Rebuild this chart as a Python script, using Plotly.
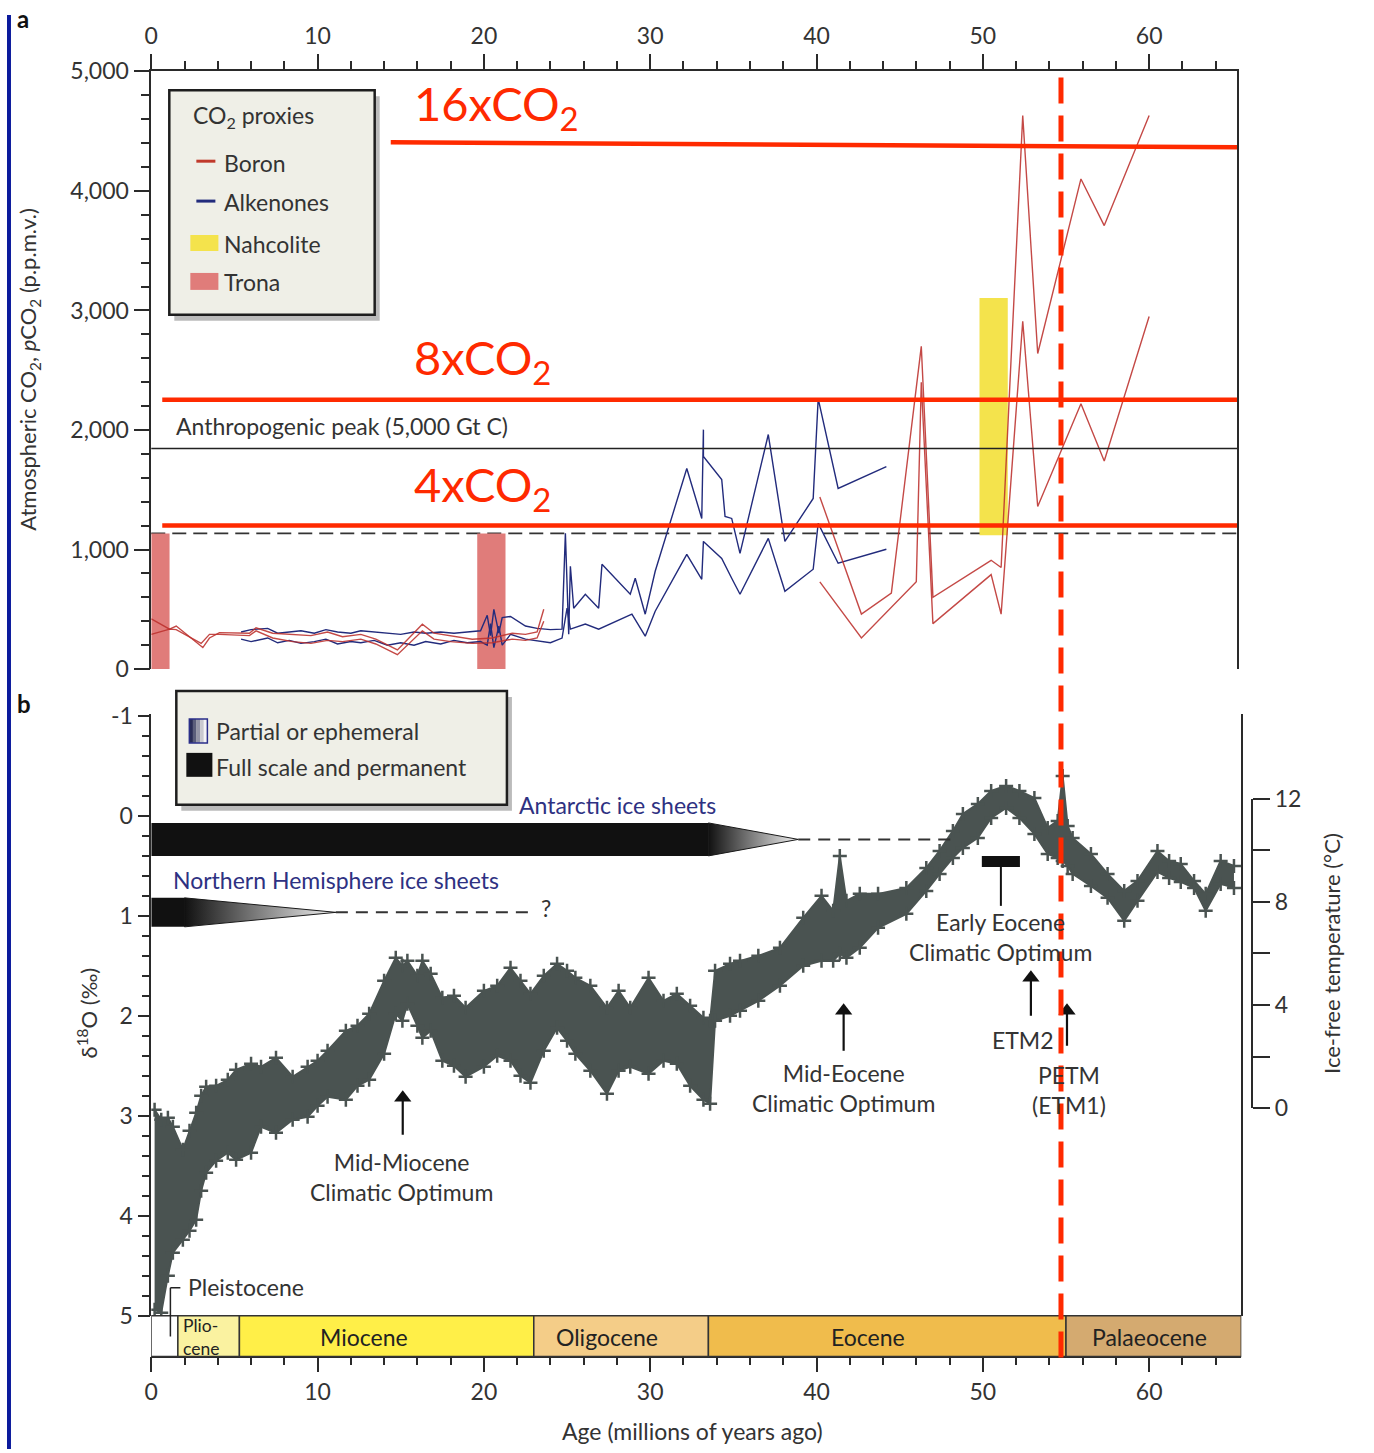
import plotly.graph_objects as go

# Empirical mapping between figure pixels and the photographed page
# (observed: X_page = 8 + 0.993*X_fig, Y_page = 12.5 + 0.983*Y_fig).
FW, FH = 1358, 1462
SX, OX = 0.993, 8.0
SY, OY = 0.983, 12.5
FONT = "Lato"
TXT = "#333333"
AX = "#2a2a2a"


def px(X):
    return ((X - OX) / SX) / FW


def py(Y):
    return 1 - ((Y - OY) / SY) / FH


# ---------------- DATA : panel a (CO2 proxies) ----------------
boron_hi_age = [0, 1.1, 1.5, 3.1, 3.5, 4.1, 5.9, 6.3, 7.3, 8.5, 9.6, 10.6, 11.5, 12.6, 13.5, 14.8, 16.3, 17.0,
                18.0, 19.3, 20.5, 21.7, 22.5, 23.2, 23.6, None,
                40.2, 42.7, 44.5, 46.3, 47.0, 50.5, 51.1, 52.4, 53.3, 55.9, 57.3, 60.0]
boron_hi_ppm = [420, 334, 360, 180, 260, 305, 300, 345, 300, 290, 280, 310, 270, 290, 250, 160, 375, 300,
                280, 250, 260, 300, 290, 310, 500, None,
                1440, 460, 635, 2700, 600, 910, 850, 4630, 2640, 4100, 3710, 4630]
boron_lo_age = [0, 1.1, 1.5, 3.0, 3.5, 4.1, 5.9, 6.3, 7.3, 8.5, 9.6, 10.6, 11.5, 12.6, 13.5, 14.8, 16.3, 17.0,
                18.0, 19.3, 20.5, 21.7, 22.5, 23.2, 23.6, None,
                40.2, 42.7, 46.0, 46.3, 47.0, 50.5, 51.1, 52.4, 53.3, 55.9, 57.3, 60.0]
boron_lo_ppm = [290, 334, 330, 215, 290, 290, 280, 320, 260, 230, 215, 240, 230, 250, 210, 120, 320, 250,
                230, 215, 220, 250, 240, 260, 400, None,
                730, 260, 730, 2400, 380, 790, 460, 2910, 1360, 2220, 1740, 2950]

alk_hi_age = [5.4, 6.0, 7.0, 7.6, 8.3, 9.0, 9.8, 10.5, 11.2, 12.0, 12.6, 13.4, 14.2, 15.0, 15.8, 16.5, 17.4,
              18.2, 19.0, 19.8, 20.2, 20.4, 20.6, 20.9, 21.1, 21.6, 22.5, 23.2, 24.0, 24.7, 24.9, 25.1, 25.2,
              25.4, 26.1, 26.9, 27.1, 28.8, 29.1, 29.7, 30.3, 32.2, 33.1, 33.2, 33.2, 34.3, 34.5, 34.9, 35.4,
              37.1, 38.1, 39.8, 40.1, 41.3, 44.2]
alk_hi_ppm = [310, 330, 340, 300, 310, 320, 300, 330, 310, 300, 320, 310, 300, 290, 310, 300, 310,
              300, 310, 320, 450, 280, 500, 300, 430, 440, 360, 340, 330, 334, 1135, 292, 860,
              509, 626, 509, 876, 626, 760, 459, 818, 1678, 1260, 2003, 1778, 1586, 1277, 1260, 968,
              1962, 1068, 1427, 2262, 1511, 1694]
alk_lo_age = [5.4, 6.0, 7.0, 7.6, 8.3, 9.0, 9.8, 10.5, 11.2, 12.0, 12.6, 13.4, 14.2, 15.0, 15.8, 16.5, 17.4,
              18.2, 19.0, 19.8, 20.2, 20.4, 20.6, 20.9, 21.1, 21.6, 22.5, 23.2, 24.0, 24.7, 25.0, 25.2, 26.1,
              26.9, 28.9, 29.7, 30.3, 32.2, 33.1, 33.2, 34.3, 34.9, 35.4, 37.1, 38.1, 39.8, 40.1, 41.3, 44.2]
alk_lo_ppm = [250, 230, 260, 220, 240, 215, 230, 250, 210, 230, 220, 240, 200, 220, 200, 230, 210,
              240, 220, 230, 200, 380, 180, 360, 200, 290, 250, 235, 220, 259, 509, 334, 376,
              334, 459, 275, 484, 960, 751, 1068, 926, 760, 626, 1093, 651, 835, 1219, 885, 1002]

trona_start = [0.0, 19.6]
trona_end = [1.1, 21.3]
trona_top = [1135, 1135]
nahcolite_start = [49.8]
nahcolite_end = [51.5]
nahcolite_bottom = [1120]
nahcolite_top = [3105]

anthropogenic_peak = 1845
dashed_level = 1135
co2_labels = ["16xCO<sub>2</sub>", "8xCO<sub>2</sub>", "4xCO<sub>2</sub>"]
co2_line_x = [[14.4, 65.3], [0.66, 65.3], [0.66, 65.3]]
co2_line_y = [[4407, 4366], [2254, 2254], [1202, 1202]]
petm_age = 54.7

# ---------------- DATA : panel b (benthic d18O) ----------------
d18o_age = [0.2, 0.6, 1.0, 1.3, 1.9, 2.3, 2.7, 3.0, 3.3, 3.9, 4.6, 5.1, 6.0, 6.6, 7.5, 8.5, 9.4, 10.0, 10.6,
            11.7, 12.4, 13.1, 14.0, 14.7, 15.1, 15.4, 16.0, 16.3, 16.8, 17.5, 18.2, 18.9, 20.0, 20.8, 21.6,
            22.2, 22.8, 23.6, 24.4, 25.0, 25.5, 26.4, 27.4, 28.1, 28.8, 29.9, 30.8, 31.6, 32.4, 33.2, 33.6,
            33.9, 34.8, 35.4, 36.5, 37.8, 39.2, 40.3, 41.0, 41.4, 41.8, 42.6, 43.7, 45.4, 46.6, 47.4, 48.2,
            48.8, 49.7, 50.5, 51.4, 52.2, 53.1, 53.9, 54.5, 54.8, 55.1, 55.4, 56.5, 57.5, 58.5, 59.3, 60.5,
            61.2, 61.9, 62.7, 63.4, 64.3, 65.1]
d18o_top = [2.94, 3.04, 3.02, 3.11, 3.34, 3.15, 2.97, 2.80, 2.71, 2.70, 2.64, 2.54, 2.48, 2.51, 2.42, 2.61,
            2.51, 2.45, 2.35, 2.15, 2.10, 1.98, 1.65, 1.42, 1.50, 1.45, 1.60, 1.45, 1.58, 1.82, 1.80, 1.92,
            1.75, 1.70, 1.52, 1.65, 1.78, 1.60, 1.48, 1.55, 1.62, 1.70, 1.92, 1.75, 1.92, 1.62, 1.85, 1.78,
            1.90, 2.02, 2.05, 1.55, 1.48, 1.45, 1.40, 1.32, 1.02, 0.80, 0.95, 0.40, 0.85, 0.78, 0.78, 0.72,
            0.52, 0.35, 0.15, -0.02, -0.12, -0.25, -0.30, -0.25, -0.18, 0.12, 0.05, -0.40, 0.10, 0.22,
            0.38, 0.58, 0.75, 0.65, 0.35, 0.45, 0.48, 0.65, 0.78, 0.45, 0.50]
d18o_bot = [4.94, 4.97, 4.60, 4.37, 4.24, 4.15, 4.04, 3.75, 3.57, 3.45, 3.37, 3.44, 3.37, 3.11, 3.17, 3.04,
            3.01, 2.90, 2.81, 2.84, 2.70, 2.64, 2.38, 1.98, 2.05, 1.88, 2.10, 2.22, 2.15, 2.45, 2.50, 2.61,
            2.51, 2.40, 2.45, 2.60, 2.67, 2.35, 2.12, 2.25, 2.38, 2.55, 2.78, 2.55, 2.51, 2.58, 2.45, 2.48,
            2.70, 2.84, 2.88, 2.05, 2.00, 1.95, 1.85, 1.70, 1.50, 1.45, 1.45, 1.38, 1.42, 1.32, 1.12, 0.98,
            0.75, 0.58, 0.42, 0.32, 0.22, 0.02, -0.08, 0.02, 0.18, 0.38, 0.42, 0.45, 0.50, 0.58, 0.70,
            0.82, 1.05, 0.85, 0.56, 0.62, 0.66, 0.72, 0.95, 0.68, 0.72]

# ice sheets: full-scale end, taper tip, dashed end, band top/bottom (d18O units)
ant_full_end, ant_tip, ant_dash_end = 33.5, 38.9, 48.3
ant_band = [0.07, 0.40]
nh_full_end, nh_tip, nh_dash_end = 2.0, 11.1, 22.9
nh_band = [0.82, 1.11]

epoch_names = ["", "Plio-<br>cene", "Miocene", "Oligocene", "Eocene", "Palaeocene"]
epoch_start = [0.0, 1.6, 5.3, 23.0, 33.5, 55.0]
epoch_end = [1.6, 5.3, 23.0, 33.5, 55.0, 65.54]
epoch_colors = ["#FFFFFF", "#FAF2A0", "#FFEF48", "#F4CD88", "#F0BC4C", "#D4AA70"]
epoch_label_x = [None, 1.8, 12.8, 27.4, 43.1, 60.0]

events = ["Mid-Miocene<br>Climatic Optimum", "Mid-Eocene<br>Climatic Optimum", "ETM2", "PETM<br>(ETM1)"]
event_age = [15.12, 41.63, 52.89, 55.06]
event_head = [2.72, 1.85, 1.52, 1.85]
event_tail = [3.19, 2.35, 2.00, 2.30]
event_text_x = [402, 843, 1022, 1068]
event_text_y = [1177, 1088, 1040, 1090]

eeco_age = [49.94, 52.23]
eeco_d18o = [0.40, 0.51]

temp_major = [0, 4, 8, 12]
temp_minor = [2, 6, 10]

# ---------------- colours ----------------
BORON = "rgba(188,48,44,0.88)"
ALK = "#222B7C"
BAND = "#4A5351"
RED = "#FF2A00"
NAVY_TXT = "#2E3182"

fig = go.Figure()

# panel a traces
for xs, ys, col in [(alk_hi_age, alk_hi_ppm, ALK), (alk_lo_age, alk_lo_ppm, ALK),
                    (boron_hi_age, boron_hi_ppm, BORON), (boron_lo_age, boron_lo_ppm, BORON)]:
    fig.add_trace(go.Scatter(x=xs, y=ys, mode="lines", line=dict(color=col, width=1.4), connectgaps=False,
                             xaxis="x", yaxis="y", showlegend=False, hoverinfo="skip"))
for lx, ly in zip(co2_line_x, co2_line_y):
    fig.add_trace(go.Scatter(x=lx, y=ly, mode="lines", line=dict(color=RED, width=4.5),
                             xaxis="x", yaxis="y", showlegend=False, hoverinfo="skip"))

# panel b: d18O band
fig.add_trace(go.Scatter(x=d18o_age, y=d18o_top, mode="lines", line=dict(color=BAND, width=2),
                         xaxis="x2", yaxis="y2", showlegend=False, hoverinfo="skip"))
fig.add_trace(go.Scatter(x=d18o_age, y=d18o_bot, mode="lines", line=dict(color=BAND, width=2),
                         fill="tonexty", fillcolor=BAND,
                         xaxis="x2", yaxis="y2", showlegend=False, hoverinfo="skip"))
fig.add_trace(go.Scatter(x=d18o_age + d18o_age, y=d18o_top + d18o_bot, mode="markers",
                         marker=dict(symbol="cross-thin", size=10, line=dict(color=BAND, width=2.5)),
                         xaxis="x2", yaxis="y2", showlegend=False, hoverinfo="skip"))

# ice sheet tapers
for full_end, tip, band in [(ant_full_end, ant_tip, ant_band), (nh_full_end, nh_tip, nh_band)]:
    fig.add_trace(go.Scatter(x=[full_end, tip, full_end, full_end],
                             y=[band[0], (band[0] + band[1]) / 2, band[1], band[0]],
                             mode="lines", fill="toself", line=dict(color="#1a1a1a", width=1),
                             fillgradient=dict(type="horizontal",
                                               colorscale=[[0, "#111111"], [1, "#f2f2f2"]]),
                             xaxis="x2", yaxis="y2", showlegend=False, hoverinfo="skip"))
for tip, dash_end, band in [(ant_tip, ant_dash_end, ant_band), (nh_tip, nh_dash_end, nh_band)]:
    mid = (band[0] + band[1]) / 2
    fig.add_trace(go.Scatter(x=[tip, dash_end], y=[mid, mid], mode="lines",
                             line=dict(color="#333333", width=2, dash="12px,8px"),
                             xaxis="x2", yaxis="y2", showlegend=False, hoverinfo="skip"))

# EECO marker stem
fig.add_trace(go.Scatter(x=[sum(eeco_age) / 2] * 2, y=[eeco_d18o[1], 0.90], mode="lines",
                         line=dict(color="#111111", width=2),
                         xaxis="x2", yaxis="y2", showlegend=False, hoverinfo="skip"))

# event arrows (shaft + triangular head)
for a, hd, tl in zip(event_age, event_head, event_tail):
    fig.add_trace(go.Scatter(x=[a, a], y=[tl, hd + 0.1], mode="lines", line=dict(color="#111111", width=2.2),
                             xaxis="x2", yaxis="y2", showlegend=False, hoverinfo="skip"))
    fig.add_trace(go.Scatter(x=[a], y=[hd + 0.1], mode="markers",
                             marker=dict(symbol="triangle-up", size=15, color="#111111",
                                         line=dict(width=0)),
                             xaxis="x2", yaxis="y2", showlegend=False, hoverinfo="skip"))

# temperature axis carrier
fig.add_trace(go.Scatter(x=[None], y=[None], xaxis="x2", yaxis="y3", showlegend=False, hoverinfo="skip"))

shapes = []
# blue strip at left edge
shapes.append(dict(type="rect", xref="paper", yref="paper", x0=0, x1=4 / FW, y0=0, y1=1,
                   fillcolor="#0B1A9C", line=dict(width=0), layer="below"))
# trona / nahcolite
for s, e, t in zip(trona_start, trona_end, trona_top):
    shapes.append(dict(type="rect", xref="x", yref="y", x0=s, x1=e, y0=0, y1=t,
                       fillcolor="#E07C7A", line=dict(width=0), layer="below"))
for s, e, b, t in zip(nahcolite_start, nahcolite_end, nahcolite_bottom, nahcolite_top):
    shapes.append(dict(type="rect", xref="x", yref="y", x0=s, x1=e, y0=b, y1=t,
                       fillcolor="#F4E34C", line=dict(width=0), layer="below"))
# anthropogenic peak, dashed level
shapes.append(dict(type="line", xref="x domain", yref="y", x0=0, x1=1, y0=anthropogenic_peak,
                   y1=anthropogenic_peak, line=dict(color="#222222", width=1.3)))
shapes.append(dict(type="line", xref="x domain", yref="y", x0=0, x1=1, y0=dashed_level,
                   y1=dashed_level, line=dict(color="#333333", width=1.8, dash="14px,7px"), layer="below"))

# ice sheet full-scale bars
shapes.append(dict(type="rect", xref="x2", yref="y2", x0=0, x1=ant_full_end, y0=ant_band[0], y1=ant_band[1],
                   fillcolor="#111111", line=dict(width=0)))
shapes.append(dict(type="rect", xref="x2", yref="y2", x0=0, x1=nh_full_end, y0=nh_band[0], y1=nh_band[1],
                   fillcolor="#111111", line=dict(width=0)))
# EECO bar
shapes.append(dict(type="rect", xref="x2", yref="y2", x0=eeco_age[0], x1=eeco_age[1], y0=eeco_d18o[0],
                   y1=eeco_d18o[1], fillcolor="#111111", line=dict(width=0)))

# timescale
for s, e, c in zip(epoch_start, epoch_end, epoch_colors):
    shapes.append(dict(type="rect", xref="x2", yref="paper", x0=s, x1=e, y0=py(1357), y1=py(1316),
                       fillcolor=c, line=dict(color="#333333", width=1.5)))
# Pleistocene bracket
shapes.append(dict(type="line", xref="x2", yref="paper", x0=1.15, x1=1.15, y0=py(1337), y1=py(1288),
                   line=dict(color="#222222", width=1.5)))
shapes.append(dict(type="line", xref="x2", yref="paper", x0=1.15, x1=1.75, y0=py(1288), y1=py(1288),
                   line=dict(color="#222222", width=1.5)))

# legends (boxes with shadow)
for (x0, y0, x1, y1) in [(170, 88, 375, 313), (177, 690, 507, 804)]:
    shapes.append(dict(type="rect", xref="paper", yref="paper", x0=px(x0 + 5), x1=px(x1 + 5),
                       y0=py(y1 + 6), y1=py(y0 + 6), fillcolor="rgba(60,60,60,0.35)", line=dict(width=0)))
    shapes.append(dict(type="rect", xref="paper", yref="paper", x0=px(x0), x1=px(x1), y0=py(y1), y1=py(y0),
                       fillcolor="#EFEFE7", line=dict(color="#1e1e1e", width=2.5)))
# legend a symbols
shapes.append(dict(type="line", xref="paper", yref="paper", x0=px(197), x1=px(216), y0=py(159), y1=py(159),
                   line=dict(color="#C0392B", width=3)))
shapes.append(dict(type="line", xref="paper", yref="paper", x0=px(197), x1=px(216), y0=py(199), y1=py(199),
                   line=dict(color=ALK, width=3)))
shapes.append(dict(type="rect", xref="paper", yref="paper", x0=px(191), x1=px(219), y0=py(249), y1=py(233),
                   fillcolor="#F4E34C", line=dict(width=0)))
shapes.append(dict(type="rect", xref="paper", yref="paper", x0=px(191), x1=px(219), y0=py(288), y1=py(271),
                   fillcolor="#E07C7A", line=dict(width=0)))
# legend b symbols
grads = ["#2a2d55", "#5b5e7a", "#9495a6", "#c9c9d0", "#f4f4f6"]
for i, gc in enumerate(grads):
    shapes.append(dict(type="rect", xref="paper", yref="paper", x0=px(190 + i * 3.6), x1=px(190 + (i + 1) * 3.6),
                       y0=py(742), y1=py(718), fillcolor=gc, line=dict(width=0)))
shapes.append(dict(type="rect", xref="paper", yref="paper", x0=px(190), x1=px(208), y0=py(742), y1=py(718),
                   fillcolor="rgba(0,0,0,0)", line=dict(color="#2B2F8A", width=1.5)))
shapes.append(dict(type="rect", xref="paper", yref="paper", x0=px(187), x1=px(213), y0=py(776), y1=py(752),
                   fillcolor="#111111", line=dict(width=0)))
# PETM vertical dashed red line
shapes.append(dict(type="line", xref="x", yref="paper", x0=petm_age, x1=petm_age, y0=py(1358), y1=py(72),
                   line=dict(color=RED, width=5, dash="26px,12px")))

annotations = []


def txt(text, X, Y, size=22, color=TXT, xanchor="left", yanchor="middle", angle=0, bold=False, align="left"):
    annotations.append(dict(text=("<b>%s</b>" % text) if bold else text, x=px(X), y=py(Y), xref="paper",
                            yref="paper", showarrow=False, xanchor=xanchor, yanchor=yanchor, textangle=angle,
                            align=align, font=dict(family=FONT, size=size, color=color)))


txt("a", 16, 16, size=24, color="#111", bold=True)
txt("b", 16, 703, size=24, color="#111", bold=True)

# CO2 multiples labels
for lab, Y in zip(co2_labels, [104, 359, 486]):
    txt(lab, 412, Y, size=47, color=RED)

txt("Anthropogenic peak (5,000 Gt C)", 175, 424, size=23)
# legend a text
txt("CO<sub>2</sub> proxies", 192, 114, size=23)
txt("Boron", 223, 161, size=23)
txt("Alkenones", 223, 200, size=23)
txt("Nahcolite", 223, 242, size=23)
txt("Trona", 223, 280, size=23)
# legend b text
txt("Partial or ephemeral", 215, 730, size=23)
txt("Full scale and permanent", 215, 766, size=23)
# panel b labels
txt("Antarctic ice sheets", 517, 804, size=23, color=NAVY_TXT)
txt("Northern Hemisphere ice sheets", 172, 879, size=23, color=NAVY_TXT)
txt("?", 546, 907, size=23, xanchor="center")
txt("Early Eocene<br>Climatic Optimum", 1000, 937, size=23, xanchor="center", align="center")
for lab, X, Y in zip(events, event_text_x, event_text_y):
    txt(lab, X, Y, size=23, xanchor="center", align="center")
txt("Pleistocene", 187, 1287, size=23)

# axis titles
txt("Atmospheric CO<sub>2</sub>, <i>p</i>CO<sub>2</sub> (p.p.m.v.)", 30, 368, size=22, xanchor="center",
    angle=-90)
txt("δ<sup>18</sup>O (‰)", 88, 1013, size=22, xanchor="center", angle=-90)
txt("Ice-free temperature (°C)", 1330, 953, size=22, xanchor="center", angle=-90)
txt("Age (millions of years ago)", 692, 1432, size=23, xanchor="center")

# epoch labels
for name, lx in zip(epoch_names, epoch_label_x):
    if lx is None:
        continue
    small = "<br>" in name
    annotations.append(dict(text=name, x=lx, y=py(1337), xref="x2", yref="paper", showarrow=False,
                            xanchor="left" if small else "center", yanchor="middle", align="left",
                            font=dict(family=FONT, size=17.5 if small else 23, color="#222")))

tickfont = dict(family=FONT, size=23, color=TXT)
common = dict(showgrid=False, zeroline=False, showline=True, linecolor=AX, linewidth=1.5, ticks="outside",
              tickcolor=AX, tickwidth=1.5, tickfont=tickfont, fixedrange=True)

fig.update_layout(
    width=FW, height=FH, margin=dict(l=0, r=0, t=0, b=0),
    paper_bgcolor="white", plot_bgcolor="rgba(0,0,0,0)",
    showlegend=False,
    xaxis=dict(domain=[px(152), px(1236)], range=[0, 65.3], side="top", anchor="y", ticklen=16,
               tick0=0, dtick=10, minor=dict(dtick=2, ticklen=9, ticks="outside", tickcolor=AX, tickwidth=1.5),
               **common),
    yaxis=dict(domain=[py(668), py(69)], range=[0, 5000], anchor="x", mirror=True, ticklen=16, tick0=0,
               dtick=1000, tickformat=",", minor=dict(dtick=200, ticklen=9, ticks="outside", tickcolor=AX,
                                                       tickwidth=1.5), **common),
    xaxis2=dict(domain=[px(152), px(1240)], range=[0, 65.54], anchor="free", position=py(1357), side="bottom",
                ticklen=15, tick0=0, dtick=10,
                minor=dict(dtick=2, ticklen=8, ticks="outside", tickcolor=AX, tickwidth=1.5), **common),
    yaxis2=dict(domain=[py(1316), py(713)], range=[5.0, -1.02], anchor="x2", mirror=True, ticklen=12,
                tickmode="array", tickvals=[-1, 0, 1, 2, 3, 4, 5], ticktext=["-1", "0", "1", "2", "3", "4", "5"],
                minor=dict(tickmode="array",
                           tickvals=[v / 10 for v in range(-8, 50, 2) if v % 10 != 0],
                           ticklen=8, ticks="outside", tickcolor=AX, tickwidth=1.5),
                **common),
    yaxis3=dict(domain=[py(1108), py(798)], range=[0, 12], anchor="free", position=px(1251), side="right",
                ticklen=17, tickmode="array", tickvals=temp_major,
                minor=dict(tickmode="array", tickvals=temp_minor, ticklen=17, ticks="outside",
                           tickcolor=AX, tickwidth=1.5),
                **common),
    shapes=shapes,
    annotations=annotations,
)

fig.write_html("out.html")
